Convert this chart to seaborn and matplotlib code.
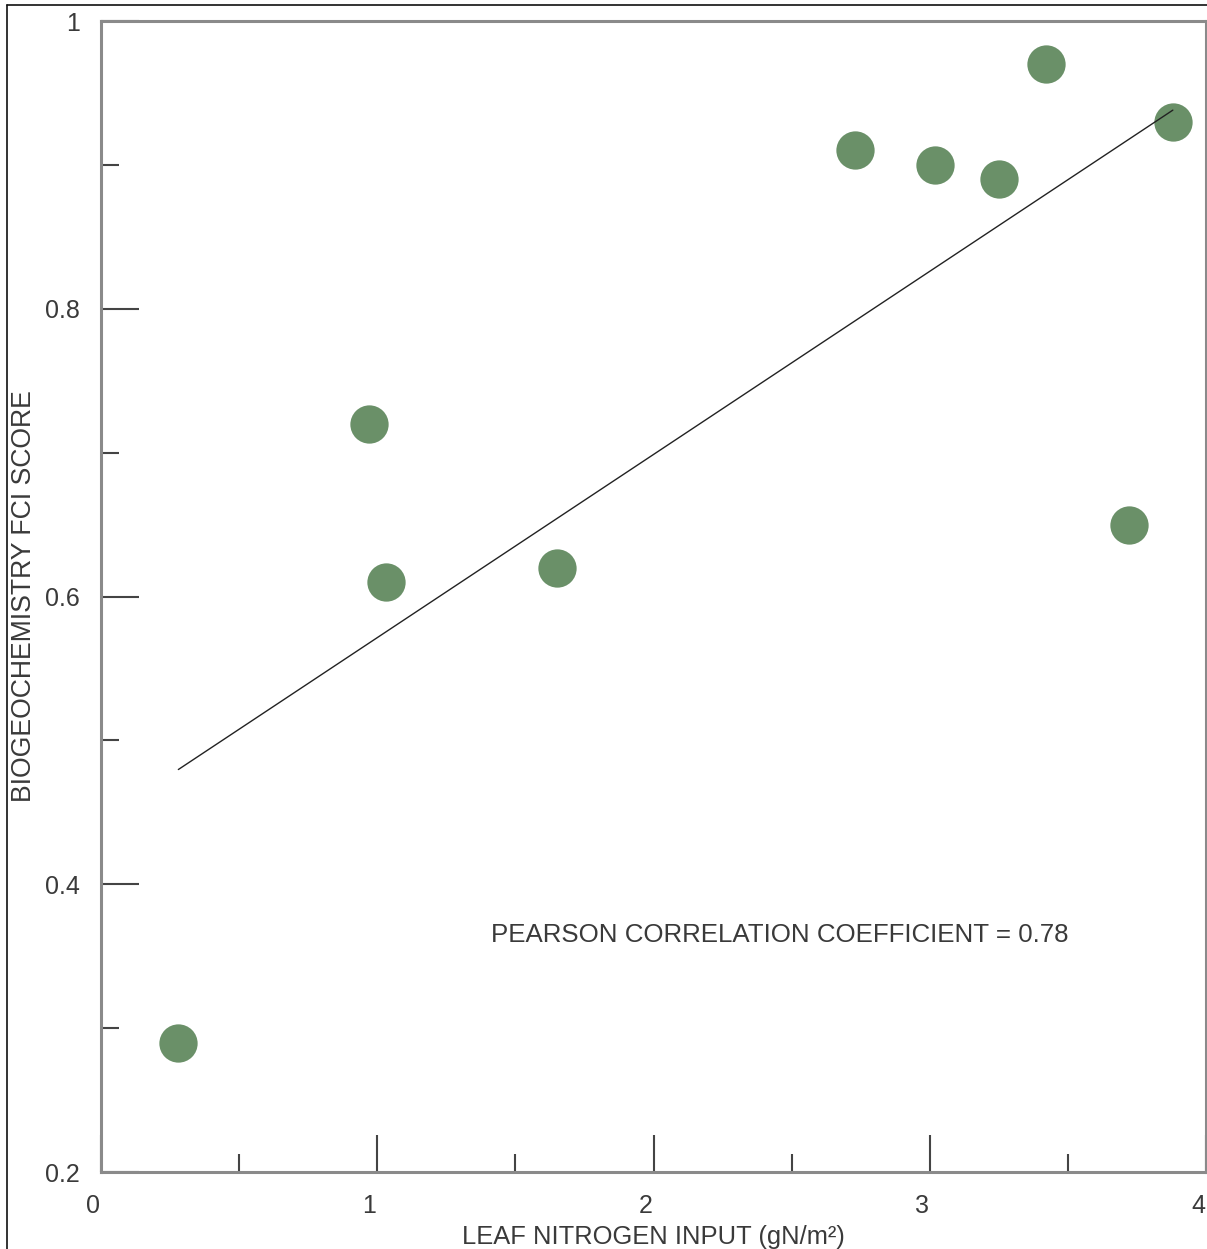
import numpy as np
import pandas as pd
import matplotlib
matplotlib.use("Agg")
import matplotlib.pyplot as plt
import matplotlib.transforms as mtransforms
from matplotlib.ticker import MultipleLocator
import seaborn as sns

# data
leaf_n = [0.28, 0.97, 1.03, 1.65, 2.73, 3.02, 3.25, 3.42, 3.72, 3.88]
fci_score = [0.29, 0.72, 0.61, 0.62, 0.91, 0.90, 0.89, 0.97, 0.65, 0.93]
pearson_r = 0.78

df = pd.DataFrame({"leaf_n": leaf_n, "fci": fci_score})

sns.set_style("white")
plt.rcParams["font.family"] = ["Liberation Sans", "DejaVu Sans"]

TEXT = "#3a3a3a"
GREEN = "#6a9068"

fig = plt.figure(figsize=(12.07, 12.49), dpi=100)
ax = fig.add_axes([101 / 1207, 1 - 1172 / 1249, 1105 / 1207, 1151 / 1249])

sns.regplot(data=df, x="leaf_n", y="fci", ax=ax, ci=None,
            scatter_kws={"s": 760, "color": GREEN, "alpha": 1, "linewidths": 0, "zorder": 3},
            line_kws={"color": "#222222", "lw": 1.0, "zorder": 4})

ax.set_xlim(0, 4)
ax.set_ylim(0.2, 1.0)
ax.set_xticks([0, 1, 2, 3, 4])
ax.set_xticklabels(["0", "1", "2", "3", "4"])
ax.set_yticks([0.2, 0.4, 0.6, 0.8, 1.0])
ax.set_yticklabels(["0.2", "0.4", "0.6", "0.8", "1"])
ax.xaxis.set_minor_locator(MultipleLocator(0.5))
ax.yaxis.set_minor_locator(MultipleLocator(0.1))

for s in ax.spines.values():
    s.set_color("#8a8a8a")
    s.set_linewidth(2.2)

ax.tick_params(axis="both", which="both", direction="in", colors="#444444",
               labelcolor=TEXT, labelsize=18, width=1.5,
               bottom=True, left=True, top=False, right=False)
ax.tick_params(axis="both", which="major", length=27)
ax.tick_params(axis="both", which="minor", length=13)
ax.tick_params(axis="y", which="major", pad=15)
ax.tick_params(axis="x", which="major", pad=16)

# x tick labels sit a little left of their ticks in the reference
shift = mtransforms.ScaledTranslation(-8 / 100, 0, fig.dpi_scale_trans)
for lab in ax.get_xticklabels():
    lab.set_transform(lab.get_transform() + shift)

ax.set_xlabel("LEAF NITROGEN INPUT (gN/m\u00b2)", fontsize=18.4, color=TEXT, labelpad=5)
ax.set_ylabel("BIOGEOCHEMISTRY FCI SCORE", fontsize=19.2, color=TEXT, labelpad=6)

ax.text(2.458, 0.365, f"PEARSON CORRELATION COEFFICIENT = {pearson_r:.2f}",
        fontsize=18.6, color=TEXT, ha="center", va="center")

# outer frame of the figure
fig.add_artist(plt.Line2D([7 / 1207, 7 / 1207], [0, 1 - 5 / 1249],
                          transform=fig.transFigure, color="#111111", lw=1.2))
fig.add_artist(plt.Line2D([7 / 1207, 1], [1 - 5 / 1249, 1 - 5 / 1249],
                          transform=fig.transFigure, color="#111111", lw=1.2))

fig.savefig("out.png", dpi=100)
